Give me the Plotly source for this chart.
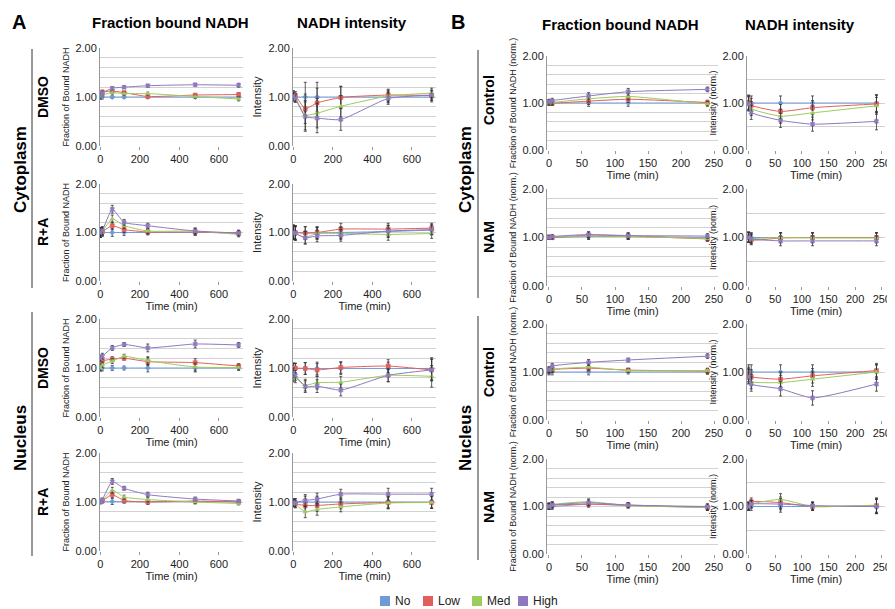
import plotly.graph_objects as go

# the page adds an 8 px body margin, so the figure is placed at (8, 8)
PAGE_W, PAGE_H = 895, 609
OFF = 8
W, H = PAGE_W - OFF, PAGE_H - OFF
FONT = "Liberation Sans, Arial, sans-serif"

series = ["No", "Low", "Med", "High"]
colors = ["#6f9bd8", "#e0605e", "#9ccc5c", "#8e78bf"]
symbols = ["diamond", "square", "triangle-up", "x"]

# time points (min)
time_a = [0, 10, 60, 120, 240, 480, 700]
time_b = [0, 5, 60, 120, 240]
ticks_a = [0, 200, 400, 600]
ticks_b = [0, 50, 100, 150, 200, 250]

# Panel A - cytoplasm, DMSO
cyto_dmso_frac = {
    "No": [1.00, 1.00, 1.00, 1.00, 1.00, 1.00, 1.00],
    "Low": [1.05, 1.10, 1.12, 1.09, 1.01, 1.04, 1.05],
    "Med": [1.00, 1.04, 1.09, 1.07, 1.07, 1.01, 0.96],
    "High": [1.02, 1.08, 1.18, 1.20, 1.23, 1.25, 1.24],
}
cyto_dmso_frac_err = [0.04, 0.04, 0.03, 0.03, 0.03, 0.03, 0.04]
cyto_dmso_int = {
    "No": [1.00, 1.00, 1.00, 1.00, 1.00, 1.00, 1.00],
    "Low": [1.05, 1.03, 0.76, 0.88, 0.99, 1.04, 1.03],
    "Med": [1.00, 0.98, 0.63, 0.67, 0.81, 1.02, 1.08],
    "High": [1.02, 0.97, 0.60, 0.57, 0.54, 0.97, 1.04],
}
cyto_dmso_int_err = [0.08, 0.08, 0.30, 0.30, 0.22, 0.12, 0.10]

# Panel A - cytoplasm, R+A
cyto_ra_frac = {
    "No": [1.00, 1.00, 1.00, 1.00, 1.00, 1.00, 1.00],
    "Low": [1.00, 1.02, 1.14, 1.06, 1.01, 1.01, 0.98],
    "Med": [1.00, 1.03, 1.28, 1.14, 1.03, 1.03, 0.96],
    "High": [1.00, 1.04, 1.48, 1.21, 1.14, 1.03, 0.99],
}
cyto_ra_frac_err = [0.10, 0.08, 0.08, 0.06, 0.05, 0.06, 0.05]
cyto_ra_int = {
    "No": [1.00, 1.00, 0.99, 0.99, 1.00, 1.02, 1.05],
    "Low": [1.02, 1.00, 0.99, 1.00, 1.07, 1.07, 1.09],
    "Med": [1.00, 0.98, 0.90, 0.98, 0.98, 0.96, 0.98],
    "High": [1.00, 0.98, 0.89, 0.93, 0.94, 1.03, 1.06],
}
cyto_ra_int_err = [0.14, 0.14, 0.13, 0.12, 0.12, 0.12, 0.10]

# Panel A - nucleus, DMSO
nuc_dmso_frac = {
    "No": [1.00, 1.00, 1.00, 1.00, 1.00, 1.00, 1.00],
    "Low": [1.14, 1.15, 1.18, 1.20, 1.13, 1.11, 1.04],
    "Med": [1.00, 1.06, 1.14, 1.24, 1.15, 1.02, 1.01],
    "High": [1.20, 1.24, 1.41, 1.48, 1.41, 1.49, 1.47],
}
nuc_dmso_frac_err = [0.06, 0.06, 0.05, 0.04, 0.08, 0.08, 0.05]
nuc_dmso_int = {
    "No": [1.00, 0.99, 0.99, 0.99, 0.99, 0.99, 0.99],
    "Low": [1.00, 1.00, 0.99, 0.96, 1.01, 1.04, 0.96],
    "Med": [0.82, 0.80, 0.65, 0.70, 0.71, 0.85, 0.83],
    "High": [0.90, 0.85, 0.62, 0.63, 0.55, 0.85, 0.96],
}
nuc_dmso_int_err = [0.10, 0.10, 0.12, 0.13, 0.12, 0.13, 0.22]

# Panel A - nucleus, R+A
nuc_ra_frac = {
    "No": [1.00, 1.01, 1.01, 1.01, 1.01, 1.01, 1.01],
    "Low": [1.00, 1.02, 1.15, 1.03, 1.00, 1.02, 1.00],
    "Med": [1.00, 1.03, 1.24, 1.10, 1.05, 1.00, 0.97],
    "High": [1.00, 1.05, 1.42, 1.28, 1.15, 1.06, 1.02],
}
nuc_ra_frac_err = [0.03, 0.03, 0.06, 0.04, 0.05, 0.04, 0.03]
nuc_ra_int = {
    "No": [1.00, 1.00, 1.00, 1.00, 1.00, 1.00, 1.00],
    "Low": [0.98, 0.96, 0.93, 0.93, 0.96, 0.99, 0.99],
    "Med": [0.98, 0.95, 0.80, 0.85, 0.90, 0.98, 0.99],
    "High": [0.97, 0.99, 1.03, 1.06, 1.16, 1.16, 1.16],
}
nuc_ra_int_err = [0.07, 0.07, 0.12, 0.12, 0.10, 0.12, 0.12]

# Panel B - cytoplasm, control
cyto_ctrl_frac = {
    "No": [1.00, 1.00, 1.00, 1.00, 1.00],
    "Low": [1.02, 1.00, 1.04, 1.08, 1.01],
    "Med": [1.00, 1.01, 1.09, 1.14, 0.98],
    "High": [1.03, 1.05, 1.15, 1.24, 1.29],
}
cyto_ctrl_frac_err = [0.05, 0.05, 0.07, 0.07, 0.05]
cyto_ctrl_int = {
    "No": [1.00, 1.00, 1.00, 1.00, 1.00],
    "Low": [1.02, 0.95, 0.82, 0.90, 0.98],
    "Med": [1.00, 0.88, 0.72, 0.79, 0.94],
    "High": [0.98, 0.80, 0.63, 0.55, 0.61],
}
cyto_ctrl_int_err = [0.15, 0.15, 0.15, 0.15, 0.18]

# Panel B - cytoplasm, NAM
cyto_nam_frac = {
    "No": [1.00, 1.00, 1.02, 1.02, 1.00],
    "Low": [1.01, 1.00, 1.05, 1.03, 0.97],
    "Med": [1.00, 1.01, 1.03, 1.02, 0.98],
    "High": [1.00, 1.02, 1.06, 1.04, 1.03],
}
cyto_nam_frac_err = [0.04, 0.04, 0.06, 0.06, 0.05]
cyto_nam_int = {
    "No": [1.00, 1.00, 1.00, 1.00, 1.00],
    "Low": [1.02, 0.95, 0.99, 1.00, 1.00],
    "Med": [1.00, 0.98, 1.00, 0.99, 0.99],
    "High": [1.00, 0.97, 0.93, 0.93, 0.93],
}
cyto_nam_int_err = [0.10, 0.10, 0.10, 0.10, 0.10]

# Panel B - nucleus, control
nuc_ctrl_frac = {
    "No": [1.00, 1.00, 1.00, 1.00, 1.00],
    "Low": [1.02, 1.05, 1.08, 1.04, 1.02],
    "Med": [1.04, 1.06, 1.10, 1.03, 1.03],
    "High": [1.05, 1.12, 1.20, 1.25, 1.33],
}
nuc_ctrl_frac_err = [0.06, 0.06, 0.06, 0.04, 0.05]
nuc_ctrl_int = {
    "No": [1.00, 1.00, 1.00, 1.00, 1.00],
    "Low": [0.95, 0.90, 0.85, 0.92, 1.03],
    "Med": [0.92, 0.80, 0.78, 0.85, 1.00],
    "High": [0.90, 0.75, 0.65, 0.46, 0.75],
}
nuc_ctrl_int_err = [0.15, 0.15, 0.15, 0.15, 0.15]

# Panel B - nucleus, NAM
nuc_nam_frac = {
    "No": [1.00, 1.00, 1.05, 1.02, 0.98],
    "Low": [1.02, 1.03, 1.05, 1.03, 0.98],
    "Med": [1.00, 1.04, 1.10, 1.02, 0.98],
    "High": [1.00, 1.03, 1.08, 1.03, 1.00],
}
nuc_nam_frac_err = [0.06, 0.06, 0.06, 0.05, 0.06]
nuc_nam_int = {
    "No": [1.00, 1.00, 1.00, 1.00, 1.00],
    "Low": [1.02, 1.10, 1.08, 1.00, 1.02],
    "Med": [1.00, 1.05, 1.15, 1.00, 1.03],
    "High": [1.00, 1.05, 1.05, 1.02, 1.00],
}
nuc_nam_int_err = [0.08, 0.08, 0.12, 0.08, 0.15]

# page-pixel boxes of the plot areas
col_px = {"A1": (100, 243), "A2": (293, 436), "B1": (547, 718), "B2": (747, 885)}
rows_a = [(48, 146), (184, 281), (319, 417), (453, 551)]
rows_b = [(56, 150), (189, 286), (324, 420), (459, 554)]

# (data, err, panel column, row index)
panels = [
    (cyto_dmso_frac, cyto_dmso_frac_err, "A1", 0),
    (cyto_dmso_int, cyto_dmso_int_err, "A2", 0),
    (cyto_ra_frac, cyto_ra_frac_err, "A1", 1),
    (cyto_ra_int, cyto_ra_int_err, "A2", 1),
    (nuc_dmso_frac, nuc_dmso_frac_err, "A1", 2),
    (nuc_dmso_int, nuc_dmso_int_err, "A2", 2),
    (nuc_ra_frac, nuc_ra_frac_err, "A1", 3),
    (nuc_ra_int, nuc_ra_int_err, "A2", 3),
    (cyto_ctrl_frac, cyto_ctrl_frac_err, "B1", 0),
    (cyto_ctrl_int, cyto_ctrl_int_err, "B2", 0),
    (cyto_nam_frac, cyto_nam_frac_err, "B1", 1),
    (cyto_nam_int, cyto_nam_int_err, "B2", 1),
    (nuc_ctrl_frac, nuc_ctrl_frac_err, "B1", 2),
    (nuc_ctrl_int, nuc_ctrl_int_err, "B2", 2),
    (nuc_nam_frac, nuc_nam_frac_err, "B1", 3),
    (nuc_nam_int, nuc_nam_int_err, "B2", 3),
]

ytitles = {
    "A1": ("Fraction of Bound NADH", 9),
    "A2": ("Intensity", 11),
    "B1": ("Fraction of Bound NADH (norm.)", 9),
    "B2": ("Intensity (norm.)", 9),
}


def px(x):
    return (x - OFF) / W


def py(y):
    return 1 - (y - OFF) / H


fig = go.Figure()
layout_axes = {}
grid = "#d2d2d2"

for i, (data, err, col, r) in enumerate(panels, start=1):
    is_a = col.startswith("A")
    t = time_a if is_a else time_b
    x0, x1 = col_px[col]
    y0, y1 = (rows_a if is_a else rows_b)[r]
    xa = "x" if i == 1 else f"x{i}"
    ya = "y" if i == 1 else f"y{i}"

    for name, c, sym in zip(series, colors, symbols):
        fig.add_trace(
            go.Scatter(
                x=t,
                y=data[name],
                mode="lines+markers",
                line=dict(color=c, width=1, shape="spline", smoothing=0.5),
                marker=dict(color=c, symbol=sym, size=4, line=dict(width=0.6, color=c)),
                error_y=dict(type="data", array=err, color="#333333", thickness=0.8, width=1.5),
                xaxis=xa,
                yaxis=ya,
                showlegend=False,
                name=name,
            )
        )

    show_time = not (is_a and r == 0)
    layout_axes[f"xaxis{i}"] = dict(
        domain=[px(x0), px(x1)],
        anchor=ya,
        automargin=False,
        range=[-2, 722] if is_a else [-3, 256],
        tickvals=ticks_a if is_a else ticks_b,
        ticks="outside",
        ticklen=3,
        tickcolor="#999999",
        showgrid=False,
        zeroline=False,
        showline=False,
        tickfont=dict(size=11, color="#222"),
        title=dict(text="Time (min)" if show_time else "", font=dict(size=11, color="#222"), standoff=2),
    )
    yt, ys = ytitles[col]
    minor_step = 0.5 if col == "B2" else 0.2
    layout_axes[f"yaxis{i}"] = dict(
        domain=[py(y1), py(y0)],
        anchor=xa,
        automargin=False,
        range=[0, 2],
        tickvals=[0, 1, 2],
        ticktext=["0.00", "1.00", "2.00"],
        showgrid=True,
        gridcolor=grid,
        gridwidth=1,
        minor=dict(tick0=0, dtick=minor_step, showgrid=True, gridcolor=grid, gridwidth=1),
        showline=True,
        linecolor="#999999",
        zeroline=False,
        tickfont=dict(size=11, color="#222"),
        title=dict(text=yt, font=dict(size=ys, color="#222"), standoff=4),
    )

annotations = []
shapes = []


def label(text, x, y, size, angle=0):
    annotations.append(
        dict(
            text=f"<b>{text}</b>", x=px(x), y=py(y), xref="paper", yref="paper",
            showarrow=False, textangle=angle, font=dict(size=size, color="#000"),
            xanchor="center", yanchor="middle",
        )
    )


label("A", 19, 22, 20)
label("B", 458, 22, 20)
label("Fraction bound NADH", 170, 23, 15)
label("NADH intensity", 352, 23, 15)
label("Fraction bound NADH", 620, 25, 15)
label("NADH intensity", 800, 25, 15)

for name, y in zip(["DMSO", "R+A", "DMSO", "R+A"], [97, 232, 368, 502]):
    label(name, 43, y, 14, -90)
for name, y in zip(["Control", "NAM", "Control", "NAM"], [100, 237, 372, 507]):
    label(name, 489, y, 14, -90)
for name, y in zip(["Cytoplasm", "Nucleus"], [170, 438]):
    label(name, 20, y, 17, -90)
    label(name, 465, y, 17, -90)

for xl, spans in [(32, [(49, 288), (312, 556)]), (478, [(50, 298), (316, 560)])]:
    for ya0, ya1 in spans:
        shapes.append(
            dict(type="line", xref="paper", yref="paper", x0=px(xl), x1=px(xl),
                 y0=py(ya0), y1=py(ya1), line=dict(color="#333", width=1))
        )

# legend
legend_x = [385, 428, 477, 523]
for name, c, lx in zip(series, colors, legend_x):
    shapes.append(
        dict(type="rect", xref="paper", yref="paper", x0=px(lx - 5), x1=px(lx + 5),
             y0=py(606), y1=py(596), fillcolor=c, line=dict(width=0))
    )
    annotations.append(
        dict(text=name, x=px(lx + 8), y=py(601), xref="paper", yref="paper",
             showarrow=False, xanchor="left", yanchor="middle", font=dict(size=12, color="#222"))
    )

fig.update_layout(
    width=W,
    height=H,
    margin=dict(l=0, r=0, t=0, b=0),
    paper_bgcolor="white",
    plot_bgcolor="white",
    font=dict(family=FONT, color="#222"),
    showlegend=False,
    annotations=annotations,
    shapes=shapes,
    **layout_axes,
)

fig.write_html("out.html")
